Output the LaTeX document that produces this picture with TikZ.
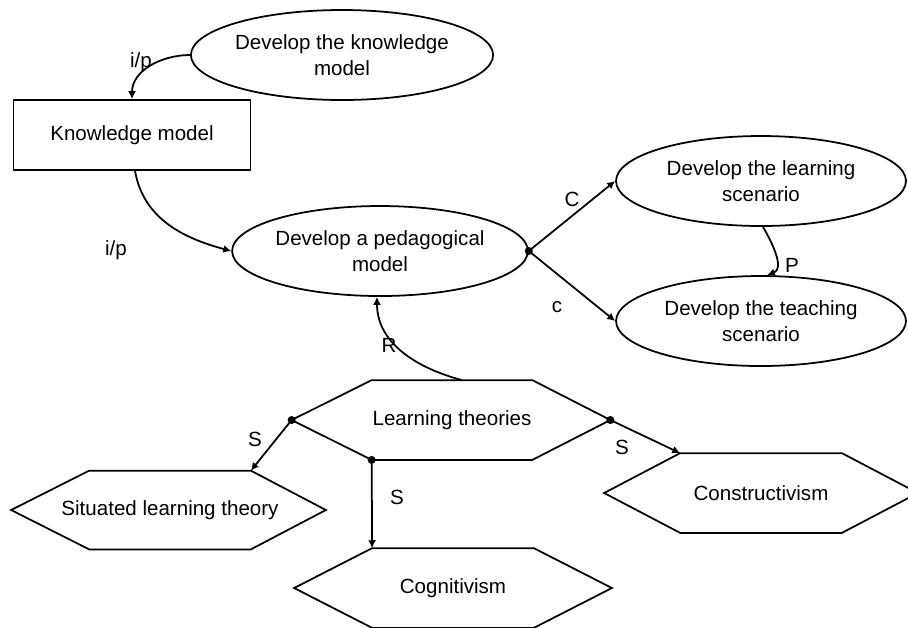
\documentclass[tikz,border=0pt]{standalone}
\usepackage{fontspec}
\setmainfont{Liberation Sans}
\usepackage{tikz}
\usetikzlibrary{positioning, arrows.meta, calc, shapes.geometric}

\begin{document}
\begin{tikzpicture}[x=0.02cm, y=0.02cm, line width=1pt,
    every node/.style={font=\fontsize{11.7}{14.7}\selectfont},
    procbox/.style={draw, ellipse, minimum width=5.8cm, minimum height=1.8cm, inner sep=0pt, align=center},
    hexbox/.style={minimum width=3.2cm, minimum height=1.56cm, inner sep=0pt},
    link/.style={-{Latex[length=4.5pt, width=4.5pt]}},
    lbl/.style={inner sep=1pt}]
        \useasboundingbox (0,0) rectangle (908,-627);
        \clip (0,0) rectangle (908,-627);
        % Processes (ellipses)
        \node[procbox, minimum width=4.72cm] (dkm) at (342,-55) {Develop the knowledge\\model};
        \node[draw, minimum width=4.74cm, minimum height=1.4cm] (km) at (132,-135) {Knowledge model\hspace{8pt}};
        \node[procbox, minimum width=5.88cm] (dpm) at (380,-251) {Develop a pedagogical\\model};
        \node[procbox] (dls) at (761,-181) {Develop the learning\\scenario};
        \node[procbox] (dts) at (761,-321) {Develop the teaching\\scenario};
        % Theories (hexagons)
        \node[hexbox, minimum width=3.18cm] (lt) at (452,-420) {Learning theories};
        \coordinate (lt-w) at ($(lt.west)+(-80,0)$);
        \coordinate (lt-e) at ($(lt.east)+(78,0)$);
        \draw (lt.north west) -- (lt.north east) -- (lt-e) -- (lt.south east) -- (lt.south west) -- (lt-w) -- cycle;
        \node[hexbox, minimum height=1.54cm, inner xsep=-18pt] (slt) at (170,-510) {Situated learning theory};
        \coordinate (slt-w) at ($(slt.west)+(-78,0)$);
        \coordinate (slt-e) at ($(slt.east)+(75,0)$);
        \draw (slt.north west) -- (slt.north east) -- (slt-e) -- (slt.south east) -- (slt.south west) -- (slt-w) -- cycle;
        \node[hexbox] (cog) at (453,-588) {Cognitivism};
        \coordinate (cog-w) at ($(cog.west)+(-78,0)$);
        \coordinate (cog-e) at ($(cog.east)+(78,0)$);
        \draw (cog.north west) -- (cog.north east) -- (cog-e) -- (cog.south east) -- (cog.south west) -- (cog-w) -- cycle;
        \node[hexbox] (con) at (761,-493) {Constructivism};
        \coordinate (con-w) at ($(con.west)+(-76,0)$);
        \coordinate (con-e) at ($(con.east)+(76,0)$);
        \draw (con.north west) -- (con.north east) -- (con-e) -- (con.south east) -- (con.south west) -- (con-w) -- cycle;
        % Inputs — top left
        \draw[link] (dkm.west) to[out=180, in=90] (km.north);
        \node[lbl] (ip1) at (141,-62) {i/p};
        \draw[link] ($(km.south)+(3,0)$) to[out=-80, in=165] (dpm.west);
        \node[lbl] (ip2) at (116,-250) {i/p};
        % Scenarios — right
        \fill (dpm.east) circle (4);
        \draw[link] (dpm.east) -- (dls.west);
        \node[lbl] (c1) at (572,-199) {C};
        \draw[link] (dpm.east) -- (dts.west);
        \node[lbl] (c2) at (557,-307) {c};
        \draw[link] ($(dls.south)+(2,0)$) to[out=-60, in=20] ($(dts.north)+(6,0)$);
        \node[lbl] (p1) at (792,-265) {P};
        % Theories — bottom
        \draw[link] ($(lt.north)+(10,0)$) to[out=165, in=-90] ($(dpm.south)+(-3,0)$);
        \node[lbl] (r1) at (389,-345) {R};
        \fill (lt-w) circle (4);
        \fill (lt.south west) circle (4);
        \fill (lt-e) circle (4);
        \draw[link] (lt-w) -- (slt.north east);
        \node[lbl] (s1) at (255,-439) {S};
        \draw[link] (lt.south west) -- (cog.north west);
        \node[lbl] (s2) at (397,-497) {S};
        \draw[link] (lt-e) -- (con.north west);
        \node[lbl] (s3) at (622,-447) {S};
\end{tikzpicture}
\end{document}
